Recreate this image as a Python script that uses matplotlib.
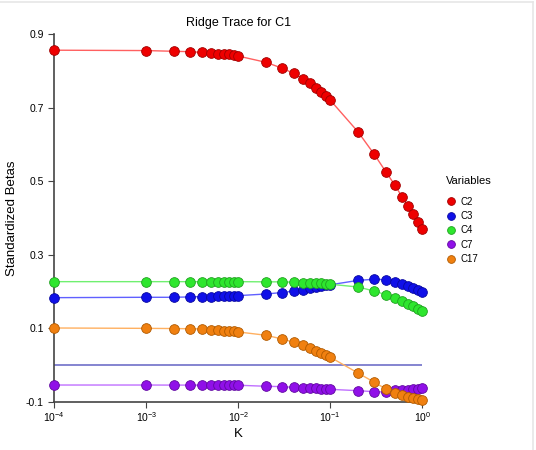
import numpy as np
import matplotlib
matplotlib.use("Agg")
import matplotlib.pyplot as plt
from matplotlib.lines import Line2D
from matplotlib.ticker import FixedLocator, NullLocator

plt.rcParams['font.family'] = ['Liberation Sans', 'DejaVu Sans']
plt.rcParams['mathtext.fontset'] = 'custom'
plt.rcParams['mathtext.rm'] = 'Liberation Sans'

# ridge parameter values
K = [0.0001,
     0.001, 0.002, 0.003, 0.004, 0.005, 0.006, 0.007, 0.008, 0.009, 0.01,
     0.02, 0.03, 0.04, 0.05, 0.06, 0.07, 0.08, 0.09, 0.1,
     0.2, 0.3, 0.4, 0.5, 0.6, 0.7, 0.8, 0.9, 1.0]

C2 = [0.856,
      0.855, 0.853, 0.852, 0.850, 0.849, 0.847, 0.846, 0.845, 0.844, 0.840,
      0.823, 0.807, 0.793, 0.779, 0.767, 0.754, 0.743, 0.731, 0.720,
      0.634, 0.573, 0.526, 0.490, 0.458, 0.432, 0.410, 0.390, 0.370]
C3 = [0.183,
      0.184, 0.184, 0.185, 0.186, 0.186, 0.187, 0.187, 0.188, 0.188, 0.1885,
      0.193, 0.197, 0.201, 0.205, 0.2085, 0.211, 0.214, 0.2165, 0.218,
      0.230, 0.233, 0.232, 0.2265, 0.220, 0.215, 0.209, 0.204, 0.1985]
C4 = [0.2265,
      0.2265, 0.2265, 0.2265, 0.2265, 0.2265, 0.2265, 0.2265, 0.2265, 0.2265, 0.2265,
      0.226, 0.226, 0.225, 0.224, 0.224, 0.223, 0.222, 0.221, 0.2195,
      0.212, 0.201, 0.191, 0.183, 0.173, 0.165, 0.160, 0.153, 0.146]
C7 = [-0.0546,
      -0.0546, -0.0548, -0.0548, -0.0549, -0.0549, -0.0550, -0.0550, -0.0551, -0.0551, -0.0552,
      -0.058, -0.059, -0.061, -0.0616, -0.0627, -0.0636, -0.0645, -0.0655, -0.0663,
      -0.070, -0.0728, -0.0736, -0.069, -0.068, -0.0673, -0.066, -0.0646, -0.0636]
C17 = [0.1005,
       0.0995, 0.099, 0.0985, 0.098, 0.095, 0.094, 0.0935, 0.093, 0.092, 0.0897,
       0.0807, 0.0706, 0.0616, 0.0534, 0.046, 0.0388, 0.0325, 0.027, 0.021,
       -0.022, -0.047, -0.065, -0.0755, -0.082, -0.087, -0.0895, -0.092, -0.094]

names = ['C2', 'C3', 'C4', 'C7', 'C17']
series = [C2, C3, C4, C7, C17]
fills = ['#ee0000', '#1010e8', '#2ee62e', '#9010e8', '#f08010']
edges = ['#a00000', '#0808a0', '#20a020', '#6008a0', '#b05a00']
lines = ['#ff6060', '#6060ff', '#70f070', '#c070ff', '#ffb060']

fig = plt.figure(figsize=(5.36, 4.5), dpi=100)
ax = fig.add_axes([0.1013, 0.1073, 0.6866, 0.8171])

# faint border of the exported image
fig.add_artist(Line2D([0, 533 / 536], [1 - 1.5 / 450] * 2, color='#e6e6e6', lw=1.2))
fig.add_artist(Line2D([533 / 536] * 2, [0, 1 - 1.5 / 450], color='#e6e6e6', lw=1.2))

ax.plot([K[0], K[-1]], [0, 0], color='#7070c8', lw=1.2, zorder=1)
for nm, ys, fc, ec, lc in zip(names, series, fills, edges, lines):
    ax.plot(K, ys, '-', color=lc, lw=1.0, zorder=2, clip_on=False)
    ax.plot(K, ys, 'o', ms=7, mfc=fc, mec=ec, mew=0.6, zorder=3, label=nm,
            clip_on=False)

ax.set_xscale('log')
ax.set_xlim(1e-4, 1.0)
ax.set_ylim(-0.1, 0.9)
ax.set_yticks([-0.1, 0.1, 0.3, 0.5, 0.7, 0.9])
ax.set_yticklabels(['-0.1', '0.1', '0.3', '0.5', '0.7', '0.9'])
ax.xaxis.set_major_locator(FixedLocator([1e-4, 1e-3, 1e-2, 1e-1, 1.0]))
ax.xaxis.set_minor_locator(NullLocator())
ax.set_xticklabels(['$10^{-4}$', '$10^{-3}$', '$10^{-2}$', '$10^{-1}$', '$10^{0}$'])
ax.tick_params(axis='both', labelsize=7.5, length=4, width=0.8, color='#444444')
ax.tick_params(axis='x', pad=2)
ax.spines['top'].set_visible(False)
ax.spines['right'].set_visible(False)
for s in ['left', 'bottom']:
    ax.spines[s].set_color('#444444')
    ax.spines[s].set_linewidth(1.2)

ax.set_title('Ridge Trace for C1', fontsize=9, pad=6)
ax.set_xlabel('K', fontsize=9.5, labelpad=3)
ax.set_ylabel('Standardized Betas', fontsize=9.5, labelpad=6)

fig.text(446 / 536, 1 - 181 / 450, 'Variables', fontsize=8, va='center', ha='left')
h, l = ax.get_legend_handles_labels()
leg = fig.legend(h, l, loc='upper left',
                 bbox_to_anchor=(438 / 536, 1 - 188 / 450), frameon=False,
                 fontsize=7, markerscale=0.8,
                 handlelength=0.8, handletextpad=0.6, labelspacing=0.45)

fig.savefig('out.png', dpi=100)
